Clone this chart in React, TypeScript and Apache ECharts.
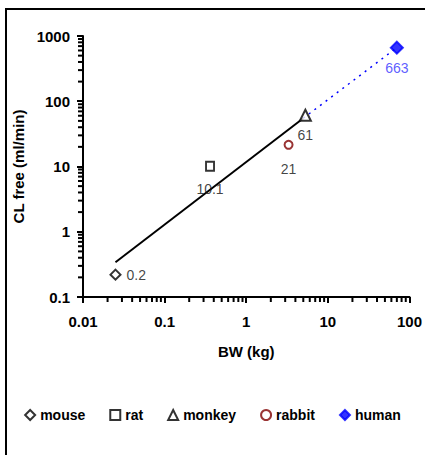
import React, { useEffect, useRef } from "react";
import * as echarts from "echarts";

const categories = ["mouse", "rat", "monkey", "rabbit", "human"];
const bodyWeight = [0.025, 0.36, 5.3, 3.3, 70];
const clFree = [0.22, 10.1, 61, 21.5, 663];
const pointLabels = ["0.2", "10.1", "61", "21", "663"];

const fitBW = [0.025, 5];
const fitCL = [0.34, 55];
const extrapBW = [5, 70];
const extrapCL = [55, 663];

const xTickLabels = ["0.01", "0.1", "1", "10", "100"];
const yTickLabels = ["0.1", "1", "10", "100", "1000"];
const xDecades = [0.01, 0.1, 1, 10];
const yDecades = [0.1, 1, 10, 100];
const minorSteps = [2, 3, 4, 5, 6, 7, 8, 9];

const FONT = "'Liberation Sans', Arial, sans-serif";

export default function App() {
  const ref = useRef<HTMLDivElement>(null);
  useEffect(() => {
    if (!ref.current) return;
    const chart = echarts.init(ref.current, null, { renderer: "svg" });

    const symbols = ["diamond", "rect", "triangle", "circle", "diamond"];
    const sizes: any[] = [10, [8, 9], 11, 8, 12];
    const fills = ["#fff", "#fff", "#fff", "#fff", "#0000ff"];
    const strokes = ["#000", "#000", "#000", "#800000", "#0000ff"];
    const labelPos = ["right", "bottom", "bottom", "bottom", "bottom"];
    const labelDist = [5, 10, 6, 12, 6];
    const labelColors = ["#111", "#111", "#111", "#111", "#3333ff"];

    const animalSeries = categories.map((name, i) => ({
      name,
      type: "scatter",
      data: [[bodyWeight[i], clFree[i]]],
      symbol: symbols[i],
      symbolSize: sizes[i],
      itemStyle: { color: fills[i], borderColor: strokes[i], borderWidth: 2 },
      label: {
        show: true,
        position: labelPos[i],
        distance: labelDist[i],
        formatter: () => pointLabels[i],
        fontFamily: FONT,
        fontSize: 14,
        color: labelColors[i],
      },
      z: 5,
    }));

    const minor: number[][] = [];
    xDecades.forEach((d) => minorSteps.forEach((s) => minor.push([d * s, 0.1, 0])));
    yDecades.forEach((d) => minorSteps.forEach((s) => minor.push([0.01, d * s, 1])));

    chart.setOption({
      animation: false,
      grid: { left: 83, top: 36, right: 10, bottom: 158 },
      graphic: [
        {
          type: "rect",
          shape: { x: 6, y: 9, width: 440, height: 470 },
          style: { fill: "none", stroke: "#000", lineWidth: 2 },
          silent: true,
        },
      ],
      legend: {
        data: categories,
        left: "center",
        top: 403,
        itemWidth: 10,
        itemHeight: 10,
        itemGap: 24,
        itemStyle: { borderWidth: 2 },
        textStyle: { fontFamily: FONT, fontSize: 14, fontWeight: "bold", color: "#000" },
      },
      xAxis: {
        type: "log",
        logBase: 10,
        min: 0.01,
        max: 100,
        name: "BW (kg)",
        nameLocation: "middle",
        nameGap: 47,
        nameTextStyle: { fontFamily: FONT, fontSize: 15, fontWeight: "bold", color: "#000" },
        axisLine: { show: true, lineStyle: { color: "#000", width: 2 } },
        axisTick: { show: true, length: 6, lineStyle: { width: 2, color: "#000" } },
        axisLabel: {
          margin: 17,
          fontFamily: FONT,
          fontSize: 15,
          fontWeight: "bold",
          color: "#000",
          formatter: (v: number) => xTickLabels[Math.round(Math.log10(v)) + 2],
        },
        splitLine: { show: false },
      },
      yAxis: {
        type: "log",
        logBase: 10,
        min: 0.1,
        max: 1000,
        name: "CL free (ml/min)",
        nameLocation: "middle",
        nameGap: 53,
        nameTextStyle: { fontFamily: FONT, fontSize: 15, fontWeight: "bold", color: "#000" },
        axisLine: { show: true, lineStyle: { color: "#000", width: 2 } },
        axisTick: { show: true, length: 6, lineStyle: { width: 2, color: "#000" } },
        axisLabel: {
          margin: 13,
          fontFamily: FONT,
          fontSize: 15,
          fontWeight: "bold",
          color: "#000",
          formatter: (v: number) => yTickLabels[Math.round(Math.log10(v)) + 1],
        },
        splitLine: { show: false },
      },
      series: [
        {
          name: "fit",
          type: "line",
          data: fitBW.map((x, i) => [x, fitCL[i]]),
          symbol: "none",
          lineStyle: { color: "#000", width: 2 },
          z: 3,
        },
        {
          name: "extrapolation",
          type: "line",
          data: extrapBW.map((x, i) => [x, extrapCL[i]]),
          symbol: "none",
          lineStyle: { color: "#0000ff", width: 1.5, type: [2, 5] },
          z: 3,
        },
        {
          name: "minorTicks",
          type: "custom",
          data: minor,
          silent: true,
          clip: false,
          z: 2,
          renderItem: (params: any, api: any) => {
            const p = api.coord([api.value(0), api.value(1)]);
            const isY = api.value(2) === 1;
            return {
              type: "line",
              shape: isY
                ? { x1: p[0] - 5, y1: p[1], x2: p[0], y2: p[1] }
                : { x1: p[0], y1: p[1], x2: p[0], y2: p[1] + 5 },
              style: { stroke: "#000", lineWidth: 2 },
            };
          },
        },
        ...animalSeries,
      ],
    });
    return () => chart.dispose();
  }, []);
  return (
    <div
      ref={ref}
      style={{ position: "absolute", left: 0, top: 0, width: 425, height: 455, background: "#fff" }}
    />
  );
}
